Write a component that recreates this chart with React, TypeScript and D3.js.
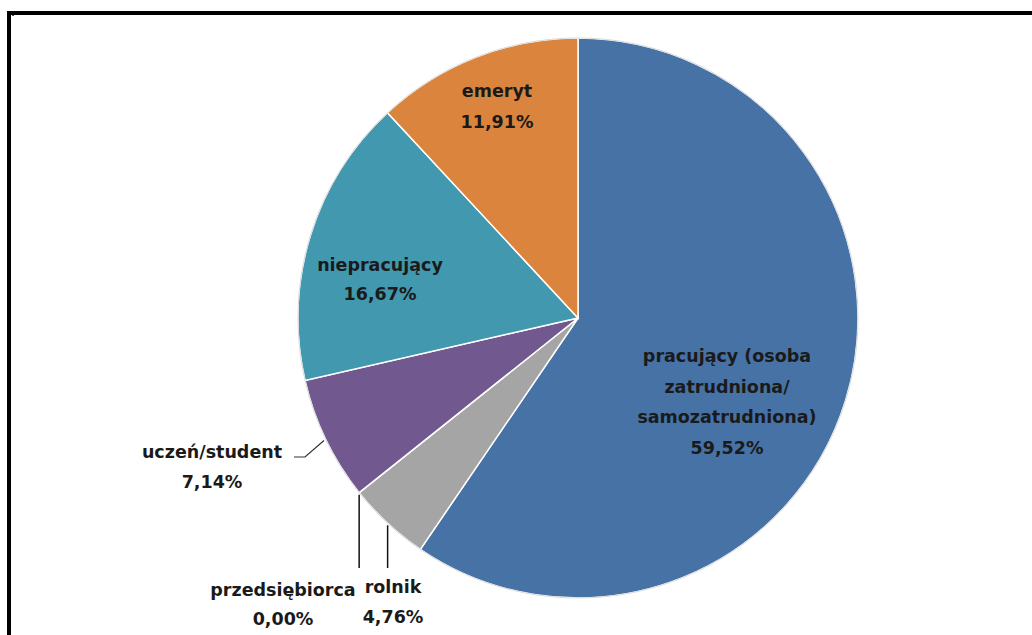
import React from "react";
import * as d3 from "d3";

const categories = [
  "pracujący (osoba zatrudniona/ samozatrudniona)",
  "rolnik",
  "przedsiębiorca",
  "uczeń/student",
  "niepracujący",
  "emeryt",
];
const values = [59.52, 4.76, 0.0, 7.14, 16.67, 11.91];
const valueLabels = ["59,52%", "4,76%", "0,00%", "7,14%", "16,67%", "11,91%"];
const colors = ["#4672A6", "#A5A5A5", "#8064A2", "#71588F", "#4198AF", "#DB843D"];

const labelLines: string[][] = [
  ["pracujący (osoba", "zatrudniona/", "samozatrudniona)"],
  ["rolnik"],
  ["przedsiębiorca"],
  ["uczeń/student"],
  ["niepracujący"],
  ["emeryt"],
];
// label anchor positions (layout)
const labelPos: [number, number][] = [
  [727, 356],
  [393, 587],
  [283, 590],
  [212, 452],
  [380, 265],
  [497, 91],
];
const lineGaps = [30.5, 30, 29, 30, 29, 31];

export default function App() {
  const W = 1032, H = 635;
  const cx = 578, cy = 318, r = 280;
  const pie = d3.pie<number>().sort(null).value((d) => d);
  const arcs = pie(values);
  const arc = d3.arc<d3.PieArcDatum<number>>().innerRadius(0).outerRadius(r);
  const font = "'DejaVu Sans', Verdana, sans-serif";

  const edge = (a: number, rr = r) => [cx + rr * Math.sin(a), cy - rr * Math.cos(a)];
  const ucz = arcs[3];
  const [ux, uy] = edge((ucz.startAngle + ucz.endAngle) / 2, r + 2);
  const prz = arcs[2];
  const [px, py] = edge(prz.startAngle);
  const rol = arcs[1];
  const [rx, ry] = edge((rol.startAngle + rol.endAngle) / 2);

  return (
    <svg width={W} height={H} style={{ position: "absolute", left: 0, top: 0 }}>
      <rect x={0} y={0} width={W} height={H} fill="#fff" />
      <line x1={9} y1={11} x2={9} y2={H} stroke="#000" strokeWidth={4} />
      <line x1={7} y1={13} x2={W} y2={13} stroke="#000" strokeWidth={4} />
      <rect x={12} y={15} width={2} height={1} fill="#444" />
      <g transform={`translate(${cx},${cy})`}>
        {arcs.map((a, i) => (
          <path key={i} d={arc(a) || ""} fill={colors[i]} stroke="#fff" strokeWidth={1.5} />
        ))}
        <circle r={r} fill="none" stroke="#d9d9d9" strokeWidth={1} />
      </g>
      <polyline
        points={`${294},${457} ${305},${457} ${ux},${uy}`}
        fill="none"
        stroke="#333"
        strokeWidth={1.2}
      />
      <line x1={px} y1={py + 2} x2={px} y2={568} stroke="#111" strokeWidth={1.5} />
      <line x1={rx} y1={ry + 2} x2={rx} y2={568} stroke="#111" strokeWidth={1.5} />
      {labelLines.map((lines, i) => {
        const [x, y] = labelPos[i];
        const all = [...lines, valueLabels[i]];
        return (
          <text
            key={i}
            x={x}
            y={y}
            textAnchor="middle"
            fontFamily={font}
            fontWeight="bold"
            fontSize={17.5}
            fill="#1a1a1a"
          >
            {all.map((t, j) => (
              <tspan key={j} x={x} y={y + j * lineGaps[i]} dy="0.35em">
                {t}
              </tspan>
            ))}
          </text>
        );
      })}
    </svg>
  );
}
